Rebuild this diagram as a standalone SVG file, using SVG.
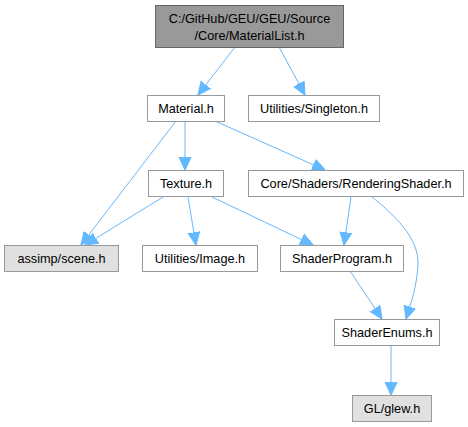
<svg xmlns="http://www.w3.org/2000/svg" width="468" height="427" viewBox="0 0 468 427">
<style>
.node rect{fill:#ffffff;stroke:#999999;stroke-width:1}
.node.root rect{fill:#999999;stroke:#666666}
.node.ext rect{fill:#e0e0e0;stroke:#999999}
text{font-family:"Liberation Sans",Arial,sans-serif;font-size:12.7px;fill:#000000;text-anchor:middle}
.edges path{fill:none;stroke:#63b8ff;stroke-width:1;marker-end:url(#arr)}
</style>
<defs>
<marker id="arr" markerUnits="userSpaceOnUse" markerWidth="14" markerHeight="14" viewBox="0 -6 12 12" refX="11" refY="0" orient="auto">
<path d="M0,-5 L11,0 L0,5 Z" fill="#63b8ff" stroke="#63b8ff" stroke-width="1"/>
</marker>
</defs>
<rect width="468" height="427" fill="#ffffff"/>
<g class="edges" id="edges">
<path d="M235,47 L198,95"/>
<path d="M279,47 L305,95"/>
<path d="M176,121 L81,245"/>
<path d="M185,121 L185,170"/>
<path d="M215,121 L325,170"/>
<path d="M163,197 L85,245"/>
<path d="M188,197 L196,245"/>
<path d="M212,197 L313,245"/>
<path d="M351,197 L344,245"/>
<path d="M372,197 C392,213 419,237 418,264 C417,286 411,303 406,319"/>
<path d="M350,271 L382,319"/>
<path d="M391,346 L391,395"/>
</g>
<g class="node root" id="node_root">
<rect x="155.5" y="5.5" width="188" height="42"/>
<text x="249.5" y="23">C:/GitHub/GEU/GEU/Source</text>
<text x="249.5" y="39.5">/Core/MaterialList.h</text>
</g>
<g class="node" id="node_material">
<rect x="147.5" y="95.5" width="77" height="26"/>
<text x="186" y="113">Material.h</text>
</g>
<g class="node" id="node_singleton">
<rect x="248.5" y="95.5" width="131" height="26"/>
<text x="314" y="113">Utilities/Singleton.h</text>
</g>
<g class="node" id="node_texture">
<rect x="148.5" y="170.5" width="75" height="26"/>
<text x="186" y="188">Texture.h</text>
</g>
<g class="node" id="node_rendering">
<rect x="248.5" y="170.5" width="215" height="26"/>
<text x="356" y="188">Core/Shaders/RenderingShader.h</text>
</g>
<g class="node ext" id="node_assimp">
<rect x="4.5" y="245.5" width="114" height="26"/>
<text x="61.5" y="263">assimp/scene.h</text>
</g>
<g class="node" id="node_image">
<rect x="142.5" y="245.5" width="115" height="26"/>
<text x="200" y="263">Utilities/Image.h</text>
</g>
<g class="node" id="node_shaderprogram">
<rect x="280.5" y="245.5" width="123" height="26"/>
<text x="342" y="263">ShaderProgram.h</text>
</g>
<g class="node" id="node_shaderenums">
<rect x="334.5" y="319.5" width="105" height="26"/>
<text x="387" y="337">ShaderEnums.h</text>
</g>
<g class="node ext" id="node_glew">
<rect x="352.5" y="395.5" width="79" height="26"/>
<text x="392" y="413">GL/glew.h</text>
</g>
</svg>
